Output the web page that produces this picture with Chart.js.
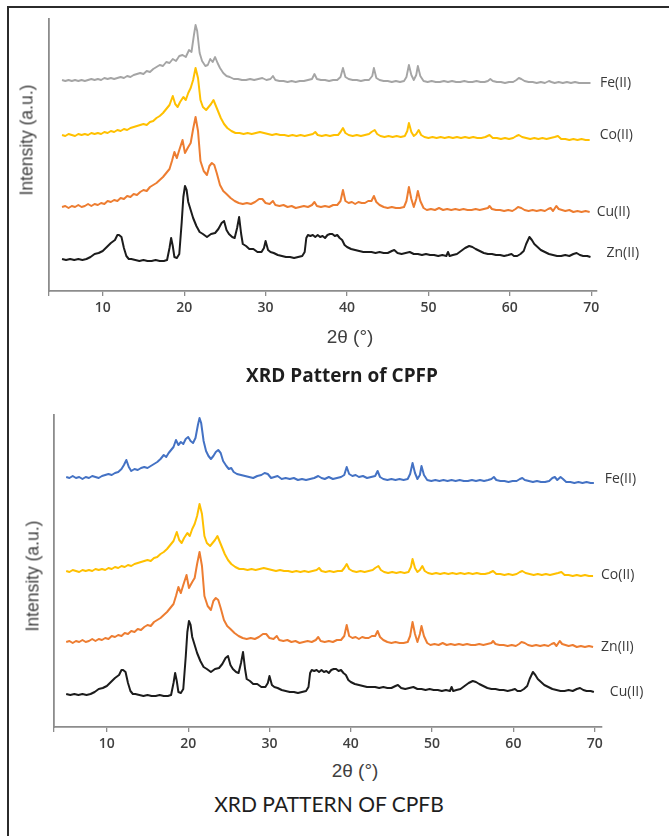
<!DOCTYPE html>
<html>
<head>
<meta charset="utf-8">
<script src="https://cdn.jsdelivr.net/npm/chart.js@4.4.1/dist/chart.umd.min.js"></script>
<style>
  html, body { margin: 0; padding: 0; background: #fff; }
  body { width: 669px; height: 836px; position: relative; overflow: hidden; }
  #frame { position: absolute; left: 7px; top: 6px; width: 680px; height: 850px; border-top: 2px solid #2b2b2b; border-left: 2px solid #2b2b2b; }
  canvas { position: absolute; left: 0; }
  .txt { position: absolute; white-space: nowrap; transform: translate(-50%, -50%); color: #404040; }
  .ax { font-family: "Liberation Sans", Arial, sans-serif; font-size: 17.5px; }
  .ax2 { font-family: "Liberation Sans", Arial, sans-serif; font-size: 19px; }
  .rot { transform: translate(-50%, -50%) rotate(-90deg); }
  .cap1 { font-family: "Open Sans", Lato, sans-serif; font-weight: 700; font-size: 19px; color: #1e1e1e; }
  .cap2 { font-family: Lato, "Open Sans", sans-serif; font-weight: 400; font-size: 21px; color: #1e1e1e; }
</style>
</head>
<body>
<div id="frame"></div>
<canvas id="cpfp" width="669" height="330" style="top:0px"></canvas>
<canvas id="cpfb" width="669" height="360" style="top:400px"></canvas>

<div class="txt ax rot" style="left:27px; top:140px;">Intensity (a.u.)</div>
<div class="txt ax2" style="left:350px; top:337px;">2θ (°)</div>
<div class="txt cap1" style="left:342px; top:375px;">XRD Pattern of CPFP</div>

<div class="txt ax rot" style="left:33px; top:576px;">Intensity (a.u.)</div>
<div class="txt ax2" style="left:355px; top:771px;">2θ (°)</div>
<div class="txt cap2" style="left:329px; top:803px;">XRD PATTERN OF CPFB</div>

<script>
// ---- Data: [2θ (°), intensity (a.u., above own baseline)] ----
const X_TICKS = [10, 20, 30, 40, 50, 60, 70];

// Grey Fe(II) trace (CPFP)
const FE_CPFP = [[5.0,3],[5.4,2],[5.8,3],[6.2,2],[6.6,3],[7.0,2],[7.4,3],[7.8,2],[8.2,3],[8.6,4],[9.0,3],[9.4,4],[9.8,3],[10.2,5],[10.6,4],[11.0,5],[11.4,4],[11.8,5],[12.2,6],[12.6,5],[13.0,7],[13.4,6],[13.8,8],[14.2,9],[14.6,10],[15.0,9],[15.4,12],[15.8,11],[16.2,14],[16.6,16],[17.0,18],[17.4,17],[17.8,21],[18.2,20],[18.6,24],[19.0,22],[19.4,27],[19.8,28],[20.2,26],[20.6,33],[20.9,31],[21.2,48],[21.4,58],[21.6,52],[21.9,30],[22.2,22],[22.6,17],[22.9,18],[23.2,24],[23.5,21],[23.8,26],[24.1,20],[24.4,15],[24.8,10],[25.2,7],[25.6,6],[26.1,4],[26.6,4],[27.1,3],[27.6,3],[28.1,4],[28.6,3],[29.1,4],[29.6,5],[30.1,3],[30.6,4],[30.9,7],[31.2,3],[31.7,2],[32.2,2],[32.7,1],[33.2,2],[33.7,1],[34.2,2],[34.7,2],[35.2,3],[35.7,4],[36.0,9],[36.3,4],[36.8,3],[37.3,3],[37.8,2],[38.3,3],[38.8,3],[39.2,6],[39.5,15],[39.8,6],[40.2,4],[40.7,3],[41.2,3],[41.7,2],[42.2,3],[42.7,3],[43.1,7],[43.3,15],[43.6,5],[44.0,3],[44.5,2],[45.0,2],[45.5,1],[46.0,2],[46.5,1],[47.0,2],[47.3,6],[47.6,18],[47.9,8],[48.2,3],[48.5,8],[48.7,17],[49.0,7],[49.4,2],[49.9,1],[50.4,2],[50.9,1],[51.4,1],[51.9,2],[52.4,1],[52.9,2],[53.4,1],[53.9,1],[54.4,2],[54.9,1],[55.4,1],[55.9,2],[56.4,1],[56.9,1],[57.3,2],[57.6,4],[57.9,2],[58.4,1],[58.9,1],[59.4,0],[59.9,1],[60.4,1],[60.8,3],[61.1,5],[61.4,4],[61.8,2],[62.3,1],[62.8,1],[63.3,0],[63.8,1],[64.3,0],[64.8,2],[65.1,1],[65.5,0],[66.0,1],[66.5,0],[67.0,1],[67.5,0],[68.0,1],[68.5,0],[69.0,0],[69.5,0],[69.9,0]];

// Blue Fe(II) trace (CPFB)
const FE_CPFB = [[5.0,6],[5.4,5],[5.8,7],[6.2,5],[6.6,6],[7.0,4],[7.4,6],[7.8,5],[8.2,7],[8.6,6],[9.0,5],[9.4,7],[9.8,8],[10.2,9],[10.6,8],[11.0,10],[11.4,11],[11.8,14],[12.1,18],[12.4,23],[12.7,16],[13.0,12],[13.4,14],[13.8,13],[14.2,15],[14.6,16],[15.0,15],[15.4,17],[15.8,19],[16.2,21],[16.6,24],[17.0,28],[17.3,26],[17.6,30],[17.9,33],[18.2,36],[18.5,43],[18.8,38],[19.1,41],[19.4,39],[19.7,44],[20.0,46],[20.3,42],[20.6,40],[20.9,45],[21.2,58],[21.4,65],[21.6,60],[21.9,42],[22.2,32],[22.5,27],[22.8,24],[23.1,27],[23.4,31],[23.7,33],[24.0,30],[24.3,22],[24.7,17],[25.0,14],[25.3,15],[25.6,11],[26.0,9],[26.5,8],[27.0,7],[27.5,6],[28.0,5],[28.5,7],[29.0,8],[29.4,10],[29.8,9],[30.2,5],[30.6,6],[31.0,7],[31.5,4],[32.0,5],[32.5,4],[33.0,5],[33.5,3],[34.0,4],[34.5,3],[35.0,4],[35.5,5],[36.0,7],[36.4,5],[36.8,4],[37.3,6],[37.8,4],[38.3,5],[38.8,6],[39.2,8],[39.5,16],[39.8,9],[40.2,7],[40.6,8],[41.0,6],[41.5,7],[42.0,5],[42.5,6],[43.0,7],[43.3,12],[43.6,6],[44.0,4],[44.5,3],[45.0,4],[45.5,3],[46.0,4],[46.5,3],[47.0,4],[47.3,9],[47.6,20],[47.9,10],[48.2,4],[48.5,8],[48.7,17],[49.0,8],[49.4,3],[49.9,2],[50.4,3],[50.9,2],[51.4,3],[51.9,2],[52.4,3],[52.9,2],[53.4,3],[53.9,2],[54.4,2],[54.9,3],[55.4,2],[55.9,3],[56.4,2],[56.9,3],[57.3,4],[57.6,6],[57.9,3],[58.4,2],[58.9,2],[59.4,1],[59.9,2],[60.4,2],[60.8,4],[61.1,5],[61.4,3],[61.9,2],[62.4,1],[62.9,2],[63.4,1],[63.9,1],[64.4,2],[64.8,5],[65.1,6],[65.4,3],[65.8,6],[66.1,4],[66.5,1],[67.0,1],[67.5,0],[68.0,1],[68.5,0],[69.0,1],[69.5,0],[69.9,0]];

// Yellow Co(II) trace (same in both panels)
const CO_TRACE = [[5.0,5],[5.4,4],[5.8,6],[6.2,5],[6.6,4],[7.0,6],[7.4,5],[7.8,6],[8.2,5],[8.6,7],[9.0,6],[9.4,7],[9.8,6],[10.2,8],[10.6,7],[11.0,9],[11.4,8],[11.8,10],[12.2,9],[12.6,11],[13.0,10],[13.4,12],[13.8,13],[14.2,14],[14.6,15],[15.0,16],[15.4,15],[15.8,18],[16.2,19],[16.6,22],[17.0,24],[17.4,27],[17.8,31],[18.2,35],[18.6,44],[18.9,36],[19.2,33],[19.5,38],[19.9,43],[20.2,40],[20.5,47],[20.8,52],[21.1,60],[21.4,72],[21.7,62],[22.0,40],[22.3,33],[22.7,30],[23.0,33],[23.3,36],[23.6,40],[23.9,34],[24.2,28],[24.5,22],[24.9,16],[25.3,12],[25.8,9],[26.3,7],[26.8,7],[27.3,6],[27.8,7],[28.3,6],[28.8,7],[29.3,8],[29.8,7],[30.3,6],[30.8,5],[31.3,6],[31.8,5],[32.3,5],[32.8,4],[33.3,5],[33.8,4],[34.3,5],[34.8,4],[35.3,5],[35.8,6],[36.1,8],[36.4,5],[36.9,4],[37.4,5],[37.9,4],[38.4,5],[38.9,5],[39.2,8],[39.5,12],[39.8,7],[40.2,5],[40.7,4],[41.2,5],[41.7,4],[42.2,5],[42.7,6],[43.0,8],[43.4,10],[43.7,6],[44.1,4],[44.6,3],[45.1,4],[45.6,3],[46.1,4],[46.6,3],[47.1,4],[47.4,9],[47.6,17],[47.9,8],[48.2,4],[48.5,6],[48.8,10],[49.1,5],[49.5,3],[50.0,2],[50.5,3],[51.0,2],[51.5,3],[52.0,2],[52.5,3],[53.0,2],[53.5,3],[54.0,2],[54.5,3],[55.0,2],[55.5,3],[56.0,2],[56.5,2],[57.0,3],[57.5,5],[57.9,2],[58.4,2],[58.9,1],[59.4,2],[59.9,1],[60.4,2],[60.8,4],[61.1,5],[61.5,3],[62.0,2],[62.5,1],[63.0,2],[63.5,1],[64.0,2],[64.5,1],[65.0,2],[65.5,3],[65.9,4],[66.3,1],[66.8,1],[67.3,0],[67.8,1],[68.3,0],[68.8,1],[69.3,0],[69.8,0]];

// Orange trace: Cu(II) in CPFP, Zn(II) in CPFB
const ORANGE_TRACE = [[5.0,6],[5.4,7],[5.8,5],[6.2,7],[6.6,6],[7.0,8],[7.4,6],[7.8,7],[8.2,9],[8.6,7],[9.0,9],[9.4,8],[9.8,10],[10.2,9],[10.6,12],[11.0,11],[11.4,13],[11.8,12],[12.2,15],[12.6,14],[13.0,17],[13.4,16],[13.8,19],[14.2,18],[14.6,21],[15.0,23],[15.4,22],[15.8,26],[16.2,28],[16.6,30],[17.0,33],[17.4,36],[17.8,40],[18.2,44],[18.5,52],[18.8,61],[19.1,55],[19.4,63],[19.8,73],[20.1,60],[20.5,66],[20.8,70],[21.1,84],[21.4,96],[21.7,82],[22.0,52],[22.4,42],[22.8,38],[23.1,47],[23.4,50],[23.7,48],[24.0,40],[24.4,28],[24.8,22],[25.2,19],[25.7,15],[26.2,12],[26.7,10],[27.2,9],[27.7,10],[28.2,9],[28.7,11],[29.2,14],[29.6,14],[30.0,10],[30.5,9],[30.9,12],[31.2,8],[31.7,7],[32.2,8],[32.7,6],[33.2,7],[33.7,5],[34.2,6],[34.7,7],[35.2,6],[35.7,8],[36.0,11],[36.3,7],[36.8,6],[37.3,7],[37.8,6],[38.3,8],[38.8,8],[39.2,12],[39.5,23],[39.8,12],[40.2,10],[40.6,11],[41.0,9],[41.4,11],[41.8,10],[42.2,10],[42.6,12],[43.0,12],[43.3,17],[43.6,11],[44.0,8],[44.5,6],[45.0,5],[45.5,6],[46.0,5],[46.5,5],[47.0,6],[47.3,12],[47.6,26],[47.9,14],[48.2,6],[48.5,14],[48.7,22],[49.0,12],[49.4,5],[49.8,3],[50.3,4],[50.8,3],[51.3,5],[51.8,3],[52.3,4],[52.8,3],[53.3,4],[53.8,3],[54.3,4],[54.8,3],[55.3,3],[55.8,4],[56.3,3],[56.8,4],[57.3,5],[57.5,7],[57.8,4],[58.3,3],[58.8,3],[59.3,2],[59.8,3],[60.3,2],[60.7,4],[61.0,6],[61.4,5],[61.8,3],[62.3,2],[62.8,3],[63.3,2],[63.8,3],[64.3,2],[64.7,4],[65.0,5],[65.3,2],[65.7,7],[66.0,4],[66.4,3],[66.8,2],[67.3,3],[67.8,1],[68.3,2],[68.8,1],[69.3,2],[69.8,1]];

// Black trace: Zn(II) in CPFP, Cu(II) in CPFB
const BLACK_TRACE = [[5.0,3],[5.5,2],[6.0,3],[6.5,2],[7.0,3],[7.5,2],[8.0,3],[8.5,5],[9.0,8],[9.5,9],[10.0,11],[10.5,15],[11.0,19],[11.5,22],[11.8,27],[12.0,27],[12.3,25],[12.6,14],[12.9,6],[13.2,3],[13.5,3],[14.0,2],[14.5,1],[15.0,2],[15.5,1],[16.0,1],[16.5,2],[17.0,1],[17.5,1],[17.9,2],[18.2,14],[18.4,24],[18.6,16],[18.8,5],[19.1,4],[19.4,8],[19.7,40],[19.9,65],[20.1,76],[20.3,72],[20.5,60],[20.8,52],[21.1,44],[21.5,36],[21.9,30],[22.3,28],[22.8,25],[23.3,28],[23.8,29],[24.2,33],[24.6,39],[24.9,41],[25.2,32],[25.5,28],[25.9,25],[26.2,24],[26.5,34],[26.75,45],[27.0,28],[27.2,18],[27.6,16],[28.0,13],[28.5,13],[29.0,10],[29.5,10],[29.8,14],[30.0,21],[30.3,12],[30.6,10],[31.0,9],[31.5,7],[32.0,6],[32.5,5],[33.0,5],[33.5,4],[34.0,5],[34.5,6],[34.8,10],[35.0,24],[35.2,27],[35.5,26],[35.8,27],[36.1,25],[36.4,27],[36.7,25],[37.0,26],[37.3,24],[37.6,27],[37.9,28],[38.2,28],[38.5,26],[38.8,27],[39.1,24],[39.4,22],[39.7,17],[40.0,15],[40.5,13],[41.0,12],[41.5,11],[42.0,10],[42.5,10],[43.0,10],[43.5,9],[44.0,10],[44.5,9],[45.0,9],[45.5,11],[45.8,12],[46.2,9],[46.7,8],[47.2,9],[47.7,10],[48.2,8],[48.7,8],[49.2,7],[49.7,8],[50.2,7],[50.7,7],[51.2,6],[51.7,7],[52.2,6],[52.4,10],[52.6,6],[53.0,7],[53.5,8],[54.0,11],[54.5,14],[55.0,16],[55.4,15],[55.8,13],[56.3,11],[56.8,9],[57.3,8],[57.8,8],[58.3,7],[58.8,7],[59.3,6],[59.8,7],[60.2,8],[60.5,6],[60.9,6],[61.3,8],[61.7,11],[62.0,18],[62.4,25],[62.7,22],[63.0,18],[63.4,15],[63.8,12],[64.3,10],[64.8,8],[65.3,7],[65.8,6],[66.3,6],[66.8,7],[67.3,6],[67.8,8],[68.2,9],[68.6,7],[69.0,6],[69.5,6],[69.9,5]];

// Series names and vertical stacking offsets (a.u.) per panel
const CPFP_LABELS  = ['Fe(II)', 'Co(II)', 'Cu(II)', 'Zn(II)'];
const CPFP_OFFSETS = [208, 151, 78, 29];
const CPFB_LABELS  = ['Fe(II)', 'Co(II)', 'Zn(II)', 'Cu(II)'];
const CPFB_OFFSETS = [244, 151, 79, 30];

// ---- Styling ----
const C_GREY = '#a5a5a5', C_BLUE = '#4472c4', C_GOLD = '#ffc000', C_ORANGE = '#ed7d31', C_BLACK = '#1c1c1c';
const AXIS_COLOR = '#8c8c8c';

const endLabels = {
  id: 'endLabels',
  afterDatasetsDraw(chart) {
    const ctx = chart.ctx;
    chart.data.datasets.forEach((ds, i) => {
      const meta = chart.getDatasetMeta(i);
      const last = meta.data[meta.data.length - 1];
      if (!last) return;
      ctx.save();
      ctx.font = '14px "Open Sans", Lato, sans-serif';
      ctx.fillStyle = '#3a3a3a';
      ctx.textAlign = 'left';
      ctx.textBaseline = 'middle';
      ctx.fillText(ds.label, last.x + ds.lblDx, last.y + ds.lblDy);
      ctx.restore();
    });
  }
};

function mk(trace, off) { return trace.map(p => ({ x: p[0], y: p[1] + off })); }

function makeChart(id, datasets, xmin, xmax, ymax, pad, yW, xH) {
  return new Chart(document.getElementById(id), {
    type: 'line',
    data: { datasets },
    options: {
      responsive: false,
      animation: false,
      devicePixelRatio: 1,
      layout: { padding: pad },
      plugins: { legend: { display: false }, tooltip: { enabled: false }, title: { display: false } },
      elements: { point: { radius: 0 }, line: { tension: 0, borderJoinStyle: 'round' } },
      scales: {
        x: {
          type: 'linear', min: xmin, max: xmax,
          afterBuildTicks: s => { s.ticks = [{ value: xmin }].concat(X_TICKS.map(v => ({ value: v }))); },
          afterFit: s => { s.height = xH; },
          ticks: {
            padding: 4, maxRotation: 0, autoSkip: false,
            color: '#404040',
            font: { family: '"Open Sans", Lato, sans-serif', size: 14, weight: '600' },
            callback: v => (v === xmin ? '' : String(v))
          },
          grid: { display: true, drawOnChartArea: false, drawTicks: true, tickLength: 5, color: AXIS_COLOR, lineWidth: 1.3 },
          border: { display: true, color: AXIS_COLOR, width: 1.8 }
        },
        y: {
          type: 'linear', min: 0, max: ymax,
          afterFit: s => { s.width = yW; },
          ticks: { display: false },
          grid: { display: false },
          border: { display: true, color: AXIS_COLOR, width: 1.8 }
        }
      }
    },
    plugins: [endLabels]
  });
}

function ds(label, trace, off, color, w, dx, dy) {
  return { label, data: mk(trace, off), borderColor: color, backgroundColor: color, borderWidth: w, fill: false, lblDx: dx, lblDy: dy };
}

makeChart('cpfp', [
  ds(CPFP_LABELS[0], FE_CPFP,      CPFP_OFFSETS[0], C_GREY,   1.9, 9.5, 0),
  ds(CPFP_LABELS[1], CO_TRACE,     CPFP_OFFSETS[1], C_GOLD,   2.0, 10, -5),
  ds(CPFP_LABELS[2], ORANGE_TRACE, CPFP_OFFSETS[2], C_ORANGE, 2.0, 7, 0),
  ds(CPFP_LABELS[3], BLACK_TRACE,  CPFP_OFFSETS[3], C_BLACK,  2.0, 16, -4)
], 3.4, 70.7, 272, { top: 19, left: 0, right: 72, bottom: 0 }, 49, 39);

makeChart('cpfb', [
  ds(CPFB_LABELS[0], FE_CPFB,      CPFB_OFFSETS[0], C_BLUE,   2.0, 11, -4),
  ds(CPFB_LABELS[1], CO_TRACE,     CPFB_OFFSETS[1], C_GOLD,   2.0, 8, -1),
  ds(CPFB_LABELS[2], ORANGE_TRACE, CPFB_OFFSETS[2], C_ORANGE, 2.0, 8, 0),
  ds(CPFB_LABELS[3], BLACK_TRACE,  CPFB_OFFSETS[3], C_BLACK,  2.0, 16, 0)
], 3.5, 70.9, 312, { top: 15, left: 0, right: 67, bottom: 0 }, 54, 33);
</script>
</body>
</html>
